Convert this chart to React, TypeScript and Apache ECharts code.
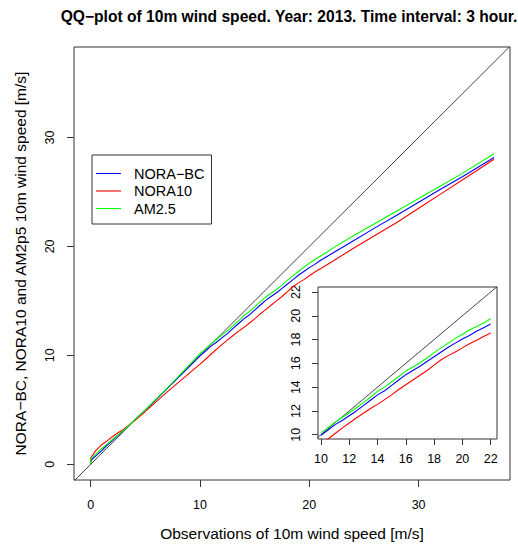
import React, { useEffect, useRef } from "react";
import * as echarts from "echarts";

const obsQuantiles = [0, 0, 0.5, 1, 1.5, 2, 2.5, 3, 4, 5, 6, 7, 8, 9, 10, 10.5, 11, 11.5, 12, 12.5, 13, 13.5, 14, 14.5, 15, 15.5, 16, 16.5, 17, 17.5, 18, 18.5, 19, 19.5, 20, 20.5, 21, 21.5, 22, 24, 26, 28, 30, 32, 34, 36.9];
const noraBC = [0.0, 0.35, 0.8, 1.25, 1.75, 2.2, 2.65, 3.1, 4.05, 5.0, 5.95, 6.95, 7.95, 8.95, 9.95, 10.4, 10.85, 11.2, 11.6, 12.0, 12.45, 12.9, 13.35, 13.7, 14.15, 14.6, 15.05, 15.4, 15.75, 16.15, 16.55, 16.95, 17.35, 17.7, 18.05, 18.35, 18.7, 19.0, 19.3, 20.5, 21.7, 22.85, 24.05, 25.25, 26.4, 28.15];
const nora10 = [0.0, 0.6, 1.3, 1.8, 2.15, 2.55, 2.9, 3.2, 4.0, 4.85, 5.75, 6.65, 7.5, 8.35, 9.2, 9.64, 10.1, 10.55, 10.98, 11.4, 11.8, 12.2, 12.55, 12.95, 13.35, 13.8, 14.2, 14.6, 15.0, 15.4, 15.85, 16.3, 16.65, 16.95, 17.3, 17.65, 17.95, 18.25, 18.55, 19.8, 21.0, 22.2, 23.5, 24.8, 26.1, 28.0];
const am25 = [0.0, 0.5, 0.95, 1.45, 1.85, 2.3, 2.7, 3.1, 4.05, 5.0, 6.0, 7.0, 8.05, 9.1, 10.15, 10.6, 11.05, 11.45, 11.85, 12.25, 12.7, 13.15, 13.65, 14.0, 14.45, 14.9, 15.35, 15.7, 16.05, 16.45, 16.9, 17.3, 17.7, 18.1, 18.45, 18.8, 19.1, 19.4, 19.75, 20.95, 22.1, 23.25, 24.4, 25.55, 26.7, 28.5];

const seriesNames = ["NORA\u2212BC", "NORA10", "AM2.5"];
const seriesColors = ["#0000ff", "#ff0000", "#00ff00"];
const mainTicks = [0, 10, 20, 30];
const insetTicks = [10, 12, 14, 16, 18, 20, 22];
const insetRange = [10, 22];
const diagonal = [[-5, -5], [45, 45]];

const FONT = '"Liberation Sans", Arial, Helvetica, sans-serif';

function pairs(ys: number[], lo = -Infinity, hi = Infinity) {
  return obsQuantiles
    .map((x, i) => [x, ys[i]])
    .filter((p) => p[0] >= lo && p[0] <= hi);
}

export default function App() {
  const ref = useRef<HTMLDivElement>(null);
  useEffect(() => {
    if (!ref.current) return;
    const chart = echarts.init(ref.current, undefined, { renderer: "svg" });
    const allSeries = [noraBC, nora10, am25];

    const axisCommon = (ticks: number[], fontSize: number, margin: number, tickLen: number, rotate: number) => ({
      type: "value" as const,
      axisLine: { show: false, onZero: false },
      splitLine: { show: false },
      axisTick: { show: true, customValues: ticks, length: tickLen, lineStyle: { color: "#333", width: 1 } },
      axisLabel: { customValues: ticks, fontSize, fontFamily: FONT, color: "#000", margin, rotate },
    });

    const series: any[] = [];
    [0, 1].forEach((gi) => {
      series.push({
        type: "line",
        xAxisIndex: gi,
        yAxisIndex: gi,
        data: diagonal,
        symbol: "none",
        silent: true,
        clip: true,
        lineStyle: { color: "#444", width: 1 },
        z: 10,
      });
      allSeries.forEach((ys, si) => {
        series.push({
          type: "line",
          name: seriesNames[si],
          xAxisIndex: gi,
          yAxisIndex: gi,
          data: gi === 0 ? pairs(ys) : pairs(ys, insetRange[0], insetRange[1]),
          symbol: "none",
          showSymbol: false,
          clip: true,
          color: seriesColors[si],
          lineStyle: { color: seriesColors[si], width: 1.1 },
          z: 11,
        });
      });
    });

    chart.setOption({
      animation: false,
      backgroundColor: "#fff",
      textStyle: { fontFamily: FONT },
      graphic: [
        {
          type: "text",
          x: 289,
          y: 16,
          style: {
            text: "QQ\u2212plot of 10m wind speed. Year: 2013. Time interval: 3 hour.",
            font: `bold 15.6px ${FONT}`,
            fill: "#000",
            textAlign: "center",
            textVerticalAlign: "middle",
          },
        },
      ],
      legend: {
        data: seriesNames,
        orient: "vertical",
        left: 92,
        top: 155,
        backgroundColor: "#fff",
        borderColor: "#333",
        borderWidth: 1,
        borderRadius: 0,
        padding: [11, 7, 8, 4],
        icon: "rect",
        itemWidth: 25,
        itemHeight: 1.1,
        itemGap: 2.5,
        textStyle: { fontSize: 14.5, fontFamily: FONT, color: "#000", padding: [0, 0, 0, 8] },
        selectedMode: false,
        z: 20,
      },
      grid: [
        { left: 74, top: 47, width: 436, height: 433, show: true, borderColor: "#333", borderWidth: 1, backgroundColor: "transparent", z: 0 },
        { left: 318, top: 287, width: 179, height: 152, show: true, borderColor: "#333", borderWidth: 1, backgroundColor: "#fff", z: 5 },
      ],
      xAxis: [
        {
          ...axisCommon(mainTicks, 12.5, 18, 7, 0),
          gridIndex: 0,
          min: -1.53,
          max: 38.36,
          name: "Observations of 10m wind speed [m/s]",
          nameLocation: "middle",
          nameGap: 45,
          nameTextStyle: { fontSize: 15.5, fontFamily: FONT, color: "#000" },
        },
        {
          ...axisCommon(insetTicks, 12.5, 13, 6, 0),
          gridIndex: 1,
          min: 9.79,
          max: 22.45,
          z: 6,
        },
      ],
      yAxis: [
        {
          ...axisCommon(mainTicks, 12.5, 18, 7, 90),
          gridIndex: 0,
          min: -1.44,
          max: 38.3,
          name: "NORA\u2212BC, NORA10 and AM2p5 10m wind speed [m/s]",
          nameLocation: "middle",
          nameGap: 46,
          nameTextStyle: { fontSize: 15.5, fontFamily: FONT, color: "#000" },
        },
        {
          ...axisCommon(insetTicks, 12.5, 16, 6, 90),
          gridIndex: 1,
          min: 9.64,
          max: 22.42,
          z: 6,
        },
      ],
      series,
    });
    return () => chart.dispose();
  }, []);

  return (
    <div
      ref={ref}
      style={{ position: "fixed", left: 0, top: 0, width: 518, height: 546 }}
    />
  );
}
